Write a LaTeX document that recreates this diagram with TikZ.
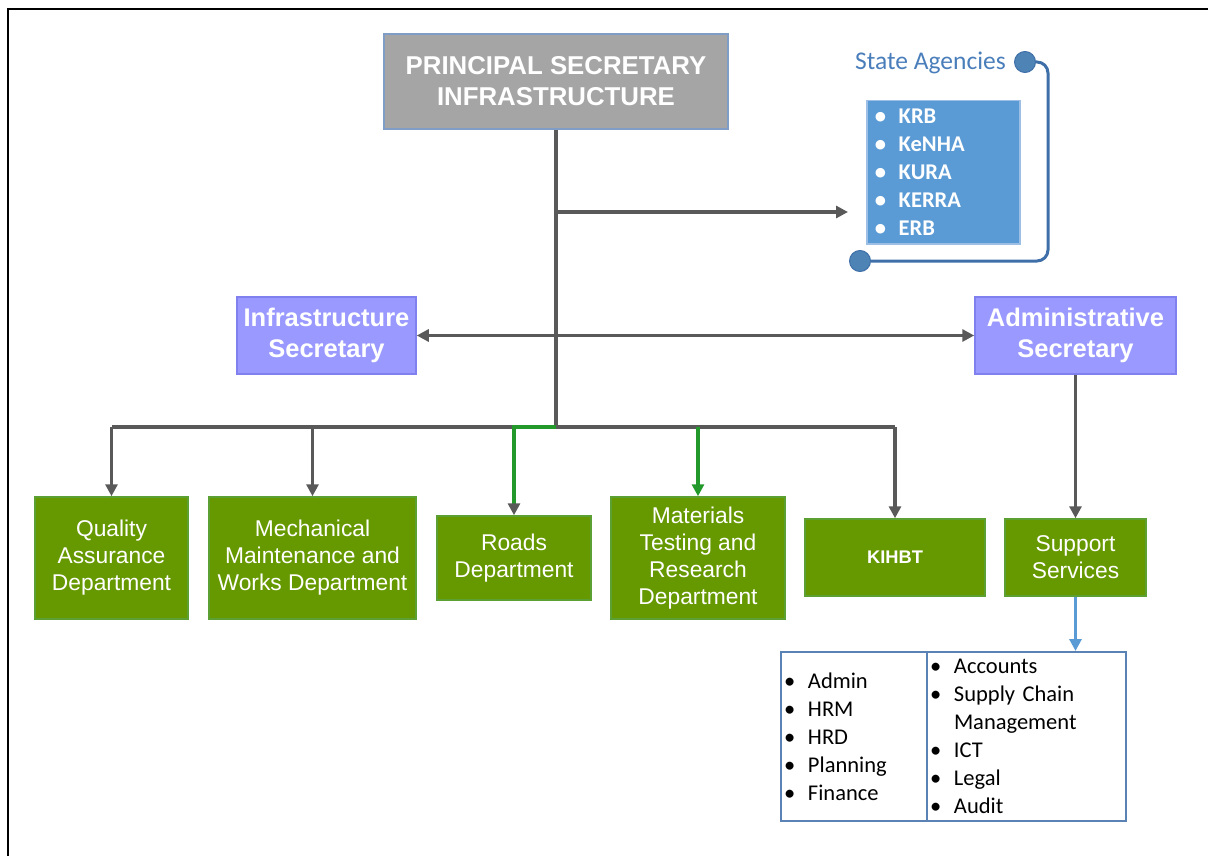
\documentclass[tikz,border=0pt]{standalone}
\usepackage{fontspec}
\setmainfont{Liberation Sans}
\newfontfamily\calibri{Carlito}
\usetikzlibrary{arrows.meta}
\definecolor{psgray}{HTML}{A5A5A5}
\definecolor{psedge}{HTML}{7F9DC6}
\definecolor{linegray}{HTML}{595959}
\definecolor{secfill}{HTML}{9999FF}
\definecolor{secedge}{HTML}{8080EE}
\definecolor{deptgreen}{HTML}{669900}
\definecolor{deptedge}{HTML}{5CA033}
\definecolor{arrowgreen}{HTML}{22992A}
\definecolor{agfill}{HTML}{5B9BD5}
\definecolor{agedge}{HTML}{9DBFE6}
\definecolor{agtext}{HTML}{4A7EBB}
\definecolor{agline}{HTML}{3F6FA8}
\definecolor{listedge}{HTML}{5A82B4}
\newcommand{\itm}[1]{\makebox[24pt][l]{\textbullet}#1}
\tikzset{
  tip/.style={-{Triangle[width=12pt,length=12pt]}},
  conn/.style={draw=linegray, line width=3.5pt},
  greenconn/.style={draw=arrowgreen, line width=3.5pt},
  deptbox/.style={rectangle, draw=deptedge, line width=1.5pt, fill=deptgreen, text=white, align=center, inner sep=0pt,
    font=\fontsize{22.8}{27}\selectfont},
  secbox/.style={rectangle, draw=secedge, line width=1.5pt, fill=secfill, text=white, align=center, inner sep=0pt,
    font=\fontsize{25.5}{31}\selectfont\bfseries},
  dot/.style={circle, fill=agfill!85!black, draw=agline, line width=1pt, minimum size=21pt, inner sep=0pt},
  listbox/.style={rectangle, draw=listedge, line width=2pt, inner xsep=3pt, inner ysep=0pt, minimum height=169pt,
    align=left, font=\calibri\fontsize{22.5}{28}\selectfont}
}
\begin{document}
\begin{tikzpicture}[x=1pt,y=-1pt]
    \useasboundingbox (0,0) rectangle (1208,856);
    \draw[line width=2.5pt] (8,856) -- (8,9) -- (1208,9);
    \node[rectangle, draw=psedge, line width=1.5pt, fill=psgray, text=white, align=center, inner sep=0pt,
      minimum width=344pt, minimum height=95pt, font=\fontsize{25.8}{31}\selectfont\bfseries]
      (ps) at (556,81.5) {PRINCIPAL SECRETARY\\INFRASTRUCTURE};
    \node[text=agtext, anchor=west, inner sep=0pt, font=\calibri\fontsize{25.5}{28}\selectfont] (agtitle) at (855,63) {State Agencies};
    \node[dot] (topdot) at (1025,62) {};
    \node[dot] (botdot) at (860,261) {};
    \node[rectangle, draw=agedge, line width=1.5pt, fill=agfill, text=white, anchor=north west, align=left,
      inner xsep=8pt, inner ysep=0pt, text width=137pt, minimum height=143pt, font=\calibri\fontsize{22.5}{28}\selectfont\bfseries]
      (agencies) at (866,100) {\itm{KRB}\\\itm{KeNHA}\\\itm{KURA}\\\itm{KERRA}\\\itm{ERB}};
    \node[secbox, minimum width=179pt, minimum height=77pt] (infsec) at (326.5,335.5) {Infrastructure\\Secretary};
    \node[secbox, minimum width=201pt, minimum height=77pt] (admsec) at (1075.5,335.5) {Administrative\\Secretary};
    \node[deptbox, minimum width=153pt, minimum height=122pt] (qad) at (111.5,558) {Quality\\Assurance\\Department};
    \node[deptbox, minimum width=207pt, minimum height=122pt] (mmwd) at (312.5,558) {Mechanical\\Maintenance and\\Works Department};
    \node[deptbox, minimum width=154pt, minimum height=84pt] (roads) at (514,558) {Roads\\Department};
    \node[deptbox, minimum width=174pt, minimum height=122pt] (mtrd) at (698,558) {Materials\\Testing and\\Research\\Department};
    \node[deptbox, minimum width=180pt, minimum height=77pt, font=\fontsize{18.3}{22}\selectfont\bfseries] (kihbt) at (895,557.5) {KIHBT};
    \node[deptbox, minimum width=141pt, minimum height=77pt] (support) at (1075.5,557.5) {Support\\Services};
    \node[listbox, anchor=north west, minimum width=146pt, text width=140pt] (svcl) at (780,651)
      {\itm{Admin}\\\itm{HRM}\\\itm{HRD}\\\itm{Planning}\\\itm{Finance}};
    \node[listbox, anchor=north west, minimum width=199pt, text width=193pt] (svcr) at (926,651)
      {\itm{Accounts}\\\itm{Supply Chain}\\\hspace*{24pt}Management\\\itm{ICT}\\\itm{Legal}\\\itm{Audit}};
    \coordinate (hub) at (556,427);
    \coordinate (tap) at (556,212);
    \draw[conn] (ps.south) -- (hub);
    \draw[conn, tip, shorten >=18pt] (tap) -- (tap -| agencies.west);
    \draw[draw=agline, line width=3pt, rounded corners=11pt] (topdot.east) -- (1048,62) -- (1048,261) -- (botdot.east);
    \draw[conn, {Triangle[width=12pt,length=12pt]}-{Triangle[width=12pt,length=12pt]}] (infsec.east) -- (admsec.west);
    \draw[conn] (qad.north |- hub) -- (kihbt.north |- hub);
    \draw[conn, tip] (qad.north |- hub) -- (qad.north);
    \draw[conn, tip] (mmwd.north |- hub) -- (mmwd.north);
    \draw[conn, tip] (kihbt.north |- hub) -- (kihbt.north);
    \draw[greenconn, -{Triangle[width=12pt,length=12pt,color=linegray]}] (hub) -- (roads.north |- hub) -- (roads.north);
    \draw[greenconn, tip] (mtrd.north |- hub) -- (mtrd.north);
    \draw[conn, tip] (admsec.south) -- (support.north);
    \draw[draw=agfill, line width=3.5pt, tip] (support.south) -- (support.south |- svcr.north);
\end{tikzpicture}
\end{document}
